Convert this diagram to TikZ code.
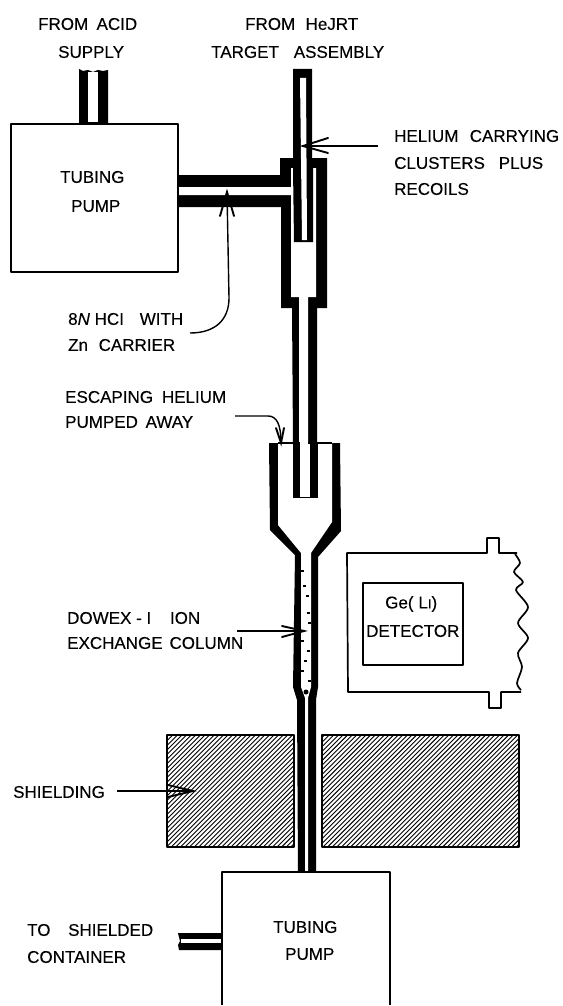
\documentclass[tikz,border=0pt]{standalone}
\usepackage{fontspec}
\setmainfont[FakeBold=0.25]{Liberation Sans}
\newcommand{\two}[3]{\hbox to #1pt{#2\hfil #3}}
\begin{document}
\begin{tikzpicture}[x=1pt,y=-1pt,
  lbl/.style={font=\fontsize{17}{17}\selectfont,inner sep=0pt,anchor=west,text=black},
  thin box/.style={draw=black,line width=1.7pt,line join=round},
  lead/.style={draw=black,line width=1.4pt},
  barb/.style={draw=black,line width=1.9pt,line cap=round,line join=miter}]
\useasboundingbox (0,0) rectangle (562,1006);
% shielding
\begin{scope}
\clip (166,734) rectangle (293,846) (321,734) rectangle (518,846);
\foreach \k in {0,4.6,...,500}{\draw[line width=.9pt,black] (166+\k-120,846+2) -- ++(120,-120);}
\end{scope}
\node[thin box,minimum width=127pt,minimum height=112pt,anchor=north west,inner sep=0pt] (shieldL) at (166,734) {};
\node[thin box,minimum width=197pt,minimum height=112pt,anchor=north west,inner sep=0pt] (shieldR) at (321,734) {};
% glass
\fill[black] (293,69) -- (312,69) -- (312,158) -- (327,158) -- (327,308) -- (317,308) -- (317,443) -- (340,443) -- (341,531) -- (318,557) -- (318,687) -- (316,700) -- (316,873) -- (298,873) -- (297,700) -- (293,687) -- (295,555) -- (270,530) -- (269,443) -- (293,443) -- (292,308) -- (281,308) -- (281,207) -- (177,207) -- (177,175) -- (280,175) -- (280,158) -- (293,158) -- cycle;
\fill[white] (177,187) -- (291,187) -- (291,168) -- (316,168) -- (316,297) -- (308,297) -- (308,443) -- (332,443) -- (332,522) -- (311,553) -- (311,687) -- (308,698) -- (308,873) -- (305,873) -- (305,698) -- (301,687) -- (301,553) -- (278,525) -- (278,443) -- (299,443) -- (299,297) -- (291,297) -- (291,195) -- (177,195) -- cycle;
\fill[black] (293,168) -- (313,168) -- (313,242) -- (294,242) -- cycle;
\fill[white] (300,78) -- (306,78) -- (307,240) -- (302,240) -- cycle;
\fill[black] (293,443) rectangle (318,498);
\fill[white] (300,443) rectangle (310,497);
\fill[black] (278,442) rectangle (332,444);
\fill[white] (300,440) rectangle (308,446);
% column packing
\foreach \a/\b in {301/570,303/585,306/595,307/612,308/622,301/640,307/650,304/660,301/670,308/680}{\fill[black] (\a,\b) rectangle ++(2.5,1.5);}
\fill[black] (306,692) circle (2.5);
% pumps
\node[thin box,fill=white,minimum width=167pt,minimum height=148pt,anchor=north west,inner sep=0pt] (pumpA) at (10,123) {};
\draw[thin box,fill=white] (222,1005) -- (222,872) -- (390,872) -- (390,1005);
% supply tube
\fill[black] (79,69) -- (83,71) -- (88,70) -- (93,72) -- (98,70) -- (103,71) -- (108,70) -- (108,124) -- (79,124) -- cycle;
\fill[white] (88,72) -- (98,72) -- (98,122) -- (88,122) -- cycle;
% waste tube
\fill[black] (178,933) -- (222,933) -- (222,950) -- (179,950) -- (178,945) -- (180,941) -- cycle;
\fill[white] (181,939) rectangle (221,943);
% detector
\node[thin box,minimum width=100pt,minimum height=82pt,anchor=north west,inner sep=0pt] (det) at (362,582) {};
\draw[thin box] (517,553) -- (499,553) -- (499,538) -- (487,538) -- (487,553) -- (347,553) -- (348,692) -- (489,692) -- (489,708) -- (501,708) -- (501,692) -- (521,692);
\draw[thin box,smooth] plot coordinates {(515,554) (520,563) (514,572) (523,582) (516,590) (528,607) (518,623) (528,638) (518,653) (522,667) (517,683) (521,690)};
\node[lbl] (ge) at (385,604) {\two{52}{Ge(}{L{\fontsize{13}{13}\selectfont I})}};
\node[lbl] (detl) at (366,631) {DETECTOR};
% labels
\node[lbl] (l1) at (38,24) {\two{99}{FROM}{ACID}};
\node[lbl] (l2) at (58,52) {SUPPLY};
\node[lbl] (l3) at (245,24) {\two{113}{FROM}{HeJRT}};
\node[lbl] (l4) at (211,52) {\two{173}{TARGET}{ASSEMBLY}};
\node[lbl] (l5) at (394,136) {\two{165}{HELIUM}{CARRYING}};
\node[lbl] (l6) at (394,163) {\two{149}{CLUSTERS}{PLUS}};
\node[lbl] (l7) at (394,189) {RECOILS};
\node[lbl] (l8) at (60,177) {TUBING};
\node[lbl] (l9) at (71,206) {PUMP};
\node[lbl] (l10) at (68,319) {\two{115}{8\textit{N} HCI}{WITH}};
\node[lbl] (l11) at (68,345) {\two{107}{Zn}{CARRIER}};
\node[lbl] (l12) at (65,397) {\two{161}{ESCAPING}{HELIUM}};
\node[lbl] (l13) at (65,422) {\two{128}{PUMPED}{AWAY}};
\node[lbl] (l14) at (67,618) {\two{133}{DOWEX - I}{ION}};
\node[lbl] (l15) at (67,643) {\two{176}{EXCHANGE}{COLUMN}};
\node[lbl] (l16) at (13,792) {SHIELDING};
\node[lbl] (l17) at (273,927) {TUBING};
\node[lbl] (l18) at (285,954) {PUMP};
\node[lbl] (l19) at (27,930) {\two{126}{TO}{SHIELDED}};
\node[lbl] (l20) at (27,957) {CONTAINER};
% arrows
\coordinate (a1) at (378,146); \coordinate (a1t) at (303,146);
\draw[lead] (a1) -- (a1t);
\draw[barb] (328,138) -- (a1t) -- (328,153);
\coordinate (a2) at (190,333); \coordinate (a2t) at (227,192);
\draw[lead] (a2) .. controls (215,333) and (229,320) .. (229,298) -- (a2t);
\draw[barb] (220,216) -- (a2t) -- (234,216);
\coordinate (a3) at (235,416); \coordinate (a3t) at (281,443);
\draw[lead] (a3) -- (268,416) .. controls (277,416) and (281,425) .. (a3t);
\draw[barb] (276,428) -- (a3t) -- (284,428);
\coordinate (a4) at (237,631); \coordinate (a4t) at (304,631);
\draw[lead] (a4) -- (a4t);
\draw[barb] (282,626) -- (a4t) -- (282,637);
\coordinate (a5) at (117,791); \coordinate (a5t) at (193,791);
\draw[lead] (a5) -- (a5t);
\draw[barb] (168,785) -- (a5t) -- (168,797);
\end{tikzpicture}
\end{document}
